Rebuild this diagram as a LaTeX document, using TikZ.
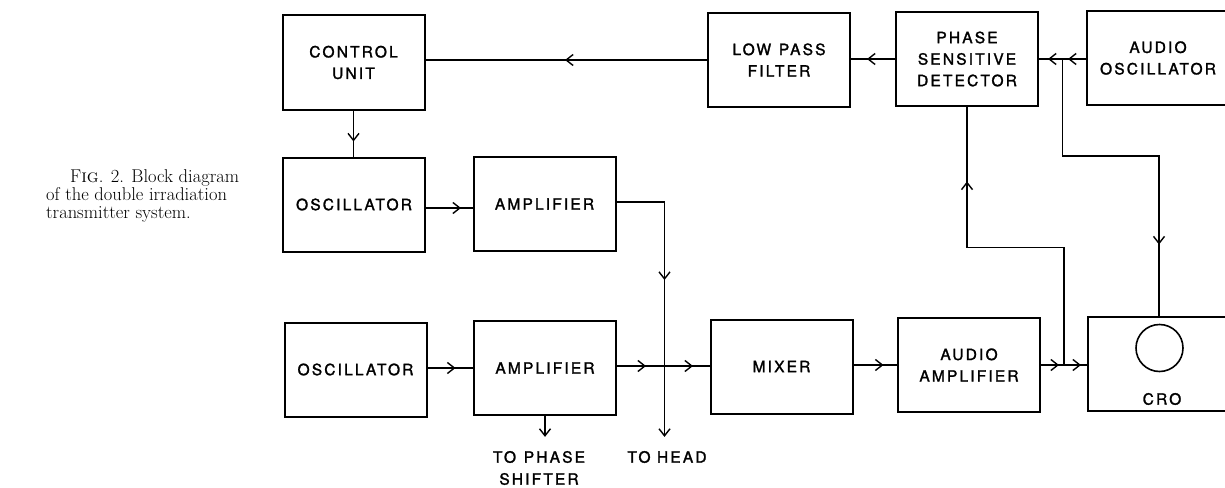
\documentclass[tikz,border=0pt]{standalone}
\usepackage{fontspec}
\newfontfamily\boxfont[LetterSpace=14, FakeBold=1.6]{TeX Gyre Heros}
\usetikzlibrary{positioning, calc, arrows.meta, decorations.markings}

\tikzset{
    block/.style={rectangle, draw, line width=2pt, minimum width=142pt, minimum height=94pt, align=center, inner sep=0pt, font=\boxfont\fontsize{15.5}{21.5}\selectfont},
    note/.style={align=center, inner sep=0pt, font=\boxfont\fontsize{15.5}{22}\selectfont},
    caption/.style={align=left, inner sep=0pt, font=\fontsize{18.5}{18}\selectfont},
    wire/.style={line width=1.4pt},
    flow/.style={wire, postaction={decorate}},
    mid/.style={decoration={markings, mark=at position #1 with {\arrow{Straight Barb[length=7pt, width=11pt]}}}},
    barb/.style={-{Straight Barb[length=7pt, width=11pt]}}
}

\begin{document}
\begin{tikzpicture}[x=1pt, y=-1pt]
\useasboundingbox (0,0) rectangle (1225,487);

% Caption
\node[caption, anchor=north west] (cap) at (46,169) {\hspace*{24pt}F\textsc{ig}. 2. Block diagram\\of the double irradiation\\transmitter system.};

% Top row
\node[block] (ctrl) at (353.5,62.5) {CONTROL\\UNIT};
\node[block] (lpf) at (779,60) {LOW\enspace PASS\\FILTER};
\node[block] (psd) at (967,59) {PHASE\\SENSITIVE\\DETECTOR};
\node[block] (aosc) at (1158,58) {AUDIO\\OSCILLATOR};

% Middle row
\node[block] (osc1) at (354,204.5) {OSCILLATOR};
\node[block] (amp1) at (544.5,204) {AMPLIFIER};

% Bottom row
\node[block] (osc2) at (355.5,369.5) {OSCILLATOR};
\node[block] (amp2) at (545,368) {AMPLIFIER};
\node[block] (mix) at (781.5,366.5) {MIXER};
\node[block] (aamp) at (969,365) {AUDIO\\AMPLIFIER};
\node[block] (cro) at (1159,364) {};
\node[circle, draw, line width=1.6pt, minimum size=47pt, inner sep=0pt] (screen) at (1159.5,348) {};
\node[note] (crolab) at (1162,399) {CRO};

% Outputs
\node[note] (tohead) at (667,457) {TO HEAD};
\node[note] (tophase) at (539,468) {TO\enspace PHASE\\SHIFTER};

% Junctions
\coordinate (jtop) at ($(psd.east)!0.5!(aosc.west |- psd.east)$);
\coordinate (bendtop) at ($(jtop)+(0,97)$);
\coordinate (jbot) at ($(aamp.east)!0.5!(cro.west)$);
\coordinate (bendbot) at ($(jbot)+(0,-117)$);
\coordinate (headbend) at ($([yshift=2pt]amp1.east)+(48,0)$);

% Connections
\draw[flow, mid=142pt] (lpf.west) -- (lpf.west -| ctrl.east);
\draw[flow, mid=28pt] (psd.west) -- (psd.west -| lpf.east);
\draw[flow, mid=18pt, mid=38pt] (aosc.west |- psd.east) -- (psd.east);
\draw[flow, mid=282pt] (jtop) -- (bendtop) -| (cro.north);

\draw[flow, mid=31pt] (ctrl.south) -- (ctrl.south |- osc1.north);
\draw[flow, mid=35pt] ([yshift=-3.5pt]osc1.east) -- ([yshift=-3.5pt]osc1.east -| amp1.west);
\draw[flow, barb, mid=126pt, shorten >=14pt] ([yshift=2pt]amp1.east) -- (headbend) -- (headbend |- tohead.north);

\draw[flow, mid=28pt] (osc2.east |- amp2.west) -- (amp2.west);
\draw[flow, mid=29pt, mid=76pt] ([yshift=2pt]amp2.east) -- ([yshift=2pt]amp2.east -| mix.west);
\draw[wire, barb, shorten >=14pt] (amp2.south) -- (amp2.south |- tophase.north);
\draw[flow, mid=30pt] (mix.east |- aamp.west) -- (aamp.west);
\draw[flow, mid=18pt, mid=40pt] (aamp.east) -- (aamp.east -| cro.west);
\draw[flow, mid=280pt] (jbot) -- (bendbot) -| (psd.south);

\end{tikzpicture}
\end{document}
